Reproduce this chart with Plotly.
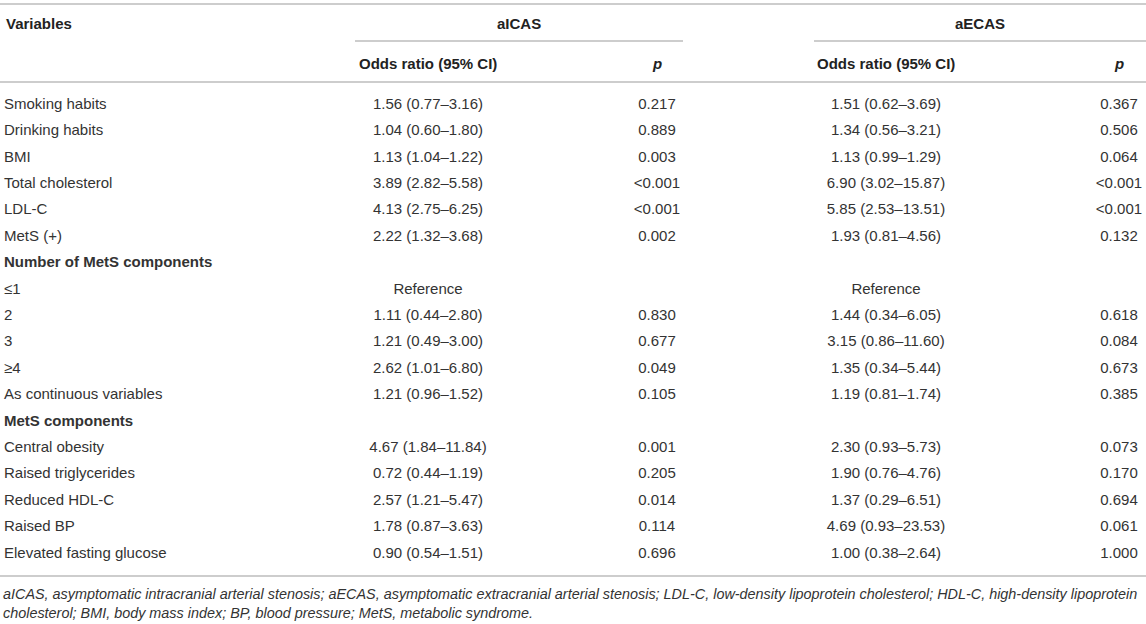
import plotly.graph_objects as go

# table content
variables = [
    "Smoking habits", "Drinking habits", "BMI", "Total cholesterol", "LDL-C", "MetS (+)",
    "Number of MetS components", "≤1", "2", "3", "≥4", "As continuous variables",
    "MetS components", "Central obesity", "Raised triglycerides", "Reduced HDL-C",
    "Raised BP", "Elevated fasting glucose",
]
section_rows = ["Number of MetS components", "MetS components"]

aicas_or = [
    "1.56 (0.77–3.16)", "1.04 (0.60–1.80)", "1.13 (1.04–1.22)", "3.89 (2.82–5.58)",
    "4.13 (2.75–6.25)", "2.22 (1.32–3.68)", "", "Reference", "1.11 (0.44–2.80)",
    "1.21 (0.49–3.00)", "2.62 (1.01–6.80)", "1.21 (0.96–1.52)", "", "4.67 (1.84–11.84)",
    "0.72 (0.44–1.19)", "2.57 (1.21–5.47)", "1.78 (0.87–3.63)", "0.90 (0.54–1.51)",
]
aicas_p = [
    "0.217", "0.889", "0.003", "<0.001", "<0.001", "0.002", "", "", "0.830",
    "0.677", "0.049", "0.105", "", "0.001", "0.205", "0.014", "0.114", "0.696",
]
aecas_or = [
    "1.51 (0.62–3.69)", "1.34 (0.56–3.21)", "1.13 (0.99–1.29)", "6.90 (3.02–15.87)",
    "5.85 (2.53–13.51)", "1.93 (0.81–4.56)", "", "Reference", "1.44 (0.34–6.05)",
    "3.15 (0.86–11.60)", "1.35 (0.34–5.44)", "1.19 (0.81–1.74)", "", "2.30 (0.93–5.73)",
    "1.90 (0.76–4.76)", "1.37 (0.29–6.51)", "4.69 (0.93–23.53)", "1.00 (0.38–2.64)",
]
aecas_p = [
    "0.367", "0.506", "0.064", "<0.001", "<0.001", "0.132", "", "", "0.618",
    "0.084", "0.673", "0.385", "", "0.073", "0.170", "0.694", "0.061", "1.000",
]

groups = ["aICAS", "aECAS"]
sub_headers = ["Odds ratio (95% CI)", "<i>p</i>"]

footnote = ("aICAS, asymptomatic intracranial arterial stenosis; aECAS, asymptomatic extracranial "
            "arterial stenosis; LDL-C, low-density lipoprotein cholesterol; HDL-C, high-density lipoprotein"
            "<br>cholesterol; BMI, body mass index; BP, blood pressure; MetS, metabolic syndrome.")

# layout (pixels)
W, H = 1146, 624
FONT = "Liberation Sans, Arial, sans-serif"
TXT = "#333333"
RULE = "#bdbdbd"
first_row, row_h = 105, 26.4
x_var = 4
x_cols = [428, 657, 886, 1119]
group_spans = [(355, 683), (814, W)]

row_y = [first_row + row_h * i for i in range(len(variables))]

fig = go.Figure()

# variable names (section rows in bold)
fig.add_trace(go.Scatter(
    x=[x_var] * len(variables),
    y=row_y,
    mode="text",
    text=[f"<b>{v}</b>" if v in section_rows else v for v in variables],
    textposition="middle right",
    textfont=dict(family=FONT, size=15, color=TXT),
    hoverinfo="skip",
))

# numeric columns
for col_x, values in zip(x_cols, [aicas_or, aicas_p, aecas_or, aecas_p]):
    fig.add_trace(go.Scatter(
        x=[col_x] * len(values),
        y=row_y,
        mode="text",
        text=values,
        textposition="middle center",
        textfont=dict(family=FONT, size=15, color=TXT),
        hoverinfo="skip",
    ))

# headers
head_font = dict(family=FONT, size=15, color="#222222")
fig.add_annotation(x=x_var, y=23, text="<b>Variables</b>", xanchor="left",
                   yanchor="middle", showarrow=False, font=head_font)
for (x0, x1), g in zip(group_spans, groups):
    fig.add_annotation(x=(x0 + x1) / 2, y=23, text=f"<b>{g}</b>", xanchor="center",
                       yanchor="middle", showarrow=False, font=head_font)
    fig.add_shape(type="line", x0=x0, x1=x1, y0=41, y1=41,
                  line=dict(color=RULE, width=1.5))
for i, col_x in enumerate(x_cols):
    fig.add_annotation(x=col_x, y=63, text=f"<b>{sub_headers[i % 2]}</b>", xanchor="center",
                       yanchor="middle", showarrow=False, font=head_font)

# full-width rules
for y in [4, 82, 576]:
    fig.add_shape(type="line", x0=0, x1=W, y0=y, y1=y, line=dict(color=RULE, width=1.5))

# footnote
fig.add_annotation(x=x_var - 3, y=603, text=f"<i>{footnote}</i>", xanchor="left", yanchor="middle",
                   align="left", showarrow=False,
                   font=dict(family=FONT, size=14.4, color=TXT))

fig.update_layout(
    width=W, height=H,
    margin=dict(l=0, r=0, t=0, b=0),
    paper_bgcolor="white", plot_bgcolor="white",
    showlegend=False,
    xaxis=dict(range=[0, W], visible=False, fixedrange=True),
    yaxis=dict(range=[H, 0], visible=False, fixedrange=True),
)

fig.write_html("out.html", config={"displayModeBar": False},
               post_script="document.body.style.margin='0';document.body.style.overflow='hidden';")
